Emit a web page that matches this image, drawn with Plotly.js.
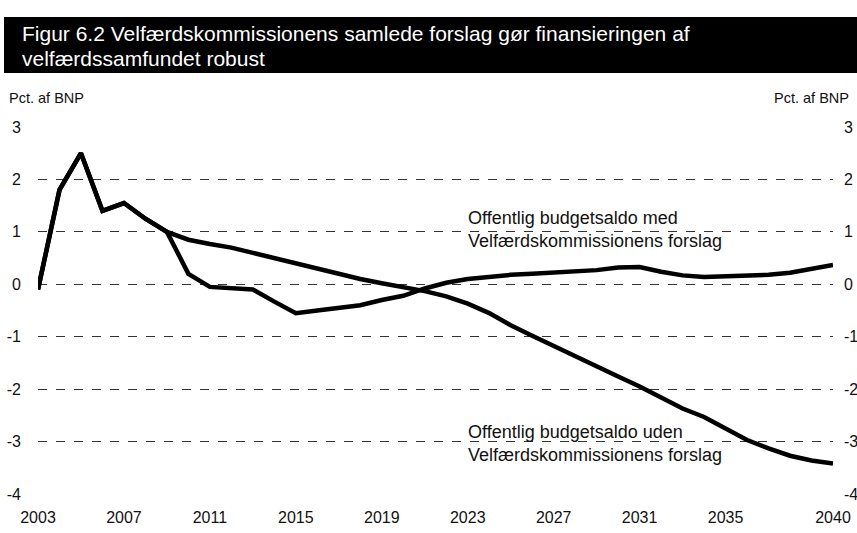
<!DOCTYPE html>
<html>
<head>
<meta charset="utf-8">
<script src="https://cdn.plot.ly/plotly-3.0.1.min.js"></script>
<style>
  html, body { margin: 0; padding: 0; background: #fff; }
  #chart { width: 857px; height: 533px; }
</style>
</head>
<body>
<div id="chart"></div>
<script>
  const FONT_FAMILY = "'Liberation Sans', Arial, sans-serif";
  const TEXT_COLOR = "#111";

  const years = [
    2003, 2004, 2005, 2006, 2007, 2008, 2009, 2010, 2011, 2012,
    2013, 2014, 2015, 2016, 2017, 2018, 2019, 2020, 2021, 2022,
    2023, 2024, 2025, 2026, 2027, 2028, 2029, 2030, 2031, 2032,
    2033, 2034, 2035, 2036, 2037, 2038, 2039, 2040
  ];

  // Offentlig budgetsaldo med Velfærdskommissionens forslag
  const saldoMed = [
    -0.1, 1.8, 2.5, 1.4, 1.55, 1.25, 1.0, 0.2, -0.05, -0.08,
    -0.1, -0.33, -0.55, -0.5, -0.45, -0.4, -0.3, -0.22, -0.08, 0.03,
    0.1, 0.15, 0.18, 0.2, 0.22, 0.24, 0.27, 0.32, 0.33, 0.24,
    0.17, 0.14, 0.15, 0.17, 0.18, 0.22, 0.3, 0.37
  ];

  // Offentlig budgetsaldo uden Velfærdskommissionens forslag
  const saldoUden = [
    -0.1, 1.8, 2.5, 1.4, 1.55, 1.25, 1.0, 0.85, 0.77, 0.7,
    0.6, 0.5, 0.4, 0.3, 0.18, 0.1, 0.02, -0.05, -0.13, -0.23,
    -0.37, -0.55, -0.78, -0.98, -1.18, -1.36, -1.58, -1.76, -1.95, -2.17,
    -2.37, -2.53, -2.75, -2.97, -3.13, -3.27, -3.36, -3.42
  ];

  const xTickVals = [2003, 2007, 2011, 2015, 2019, 2023, 2027, 2031, 2035, 2040];
  const yTickVals = [3, 2, 1, 0, -1, -2, -3, -4];
  const yTickText = ["3", "2", "1", "0", "-1", "-2", "-3", "-4"];

  const titleLines = [
    "Figur 6.2 Velfærdskommissionens samlede forslag gør finansieringen af",
    "velfærdssamfundet robust"
  ];
  const labelMed = "Offentlig budgetsaldo med<br>Velfærdskommissionens forslag";
  const labelUden = "Offentlig budgetsaldo uden<br>Velfærdskommissionens forslag";
  const unitLabel = "Pct. af BNP";

  const W = 857, H = 533;
  const M = { l: 38, r: 24, t: 127, b: 39 };
  const plotW = W - M.l - M.r, plotH = H - M.t - M.b;
  const px = (x) => (x - M.l) / plotW;        // pixel -> paper x
  const py = (y) => (H - M.b - y) / plotH;    // pixel -> paper y

  const traces = [
    {
      type: "scatter", mode: "lines", name: "med",
      x: years, y: saldoMed,
      line: { color: "#000", width: 4.5 },
      hoverinfo: "skip"
    },
    {
      type: "scatter", mode: "lines", name: "uden",
      x: years, y: saldoUden,
      line: { color: "#000", width: 4.5 },
      hoverinfo: "skip"
    },
    {
      type: "scatter", mode: "lines", yaxis: "y2",
      x: [years[0]], y: [0], showlegend: false, hoverinfo: "skip",
      line: { width: 0 }
    }
  ];

  const yAxisBase = {
    range: [-4, 3],
    tickvals: yTickVals,
    ticktext: yTickText,
    ticks: "",
    showline: false,
    zeroline: false,
    tickfont: { size: 16, color: TEXT_COLOR }
  };

  const layout = {
    width: W, height: H,
    margin: M,
    paper_bgcolor: "#fff",
    plot_bgcolor: "#fff",
    showlegend: false,
    font: { family: FONT_FAMILY, color: TEXT_COLOR },
    xaxis: {
      range: [2003, 2040],
      tickvals: xTickVals,
      ticks: "",
      showgrid: false,
      zeroline: false,
      showline: false,
      ticklabelstandoff: 12,
      tickfont: { size: 16, color: TEXT_COLOR }
    },
    yaxis: Object.assign({}, yAxisBase, {
      showgrid: true,
      gridcolor: "#333",
      gridwidth: 1,
      griddash: "dash",
      ticklabelstandoff: 16
    }),
    yaxis2: Object.assign({}, yAxisBase, {
      overlaying: "y",
      side: "right",
      showgrid: false,
      ticklabelstandoff: 10
    }),
    shapes: [
      {
        type: "rect", xref: "paper", yref: "paper", layer: "below",
        x0: px(4), x1: px(W), y0: py(73), y1: py(17),
        fillcolor: "#000", line: { width: 0 }
      }
    ],
    annotations: [
      {
        xref: "paper", yref: "paper", x: px(20), y: py(33),
        xanchor: "left", yanchor: "middle", showarrow: false,
        text: titleLines[0], font: { size: 21, color: "#fff" }
      },
      {
        xref: "paper", yref: "paper", x: px(20), y: py(59),
        xanchor: "left", yanchor: "middle", showarrow: false,
        text: titleLines[1], font: { size: 21, color: "#fff" }
      },
      {
        xref: "paper", yref: "paper", x: px(7), y: py(98),
        xanchor: "left", yanchor: "middle", showarrow: false,
        text: unitLabel, font: { size: 14.5 }
      },
      {
        xref: "paper", yref: "paper", x: px(851), y: py(98),
        xanchor: "right", yanchor: "middle", showarrow: false,
        text: unitLabel, font: { size: 14.5 }
      },
      {
        xref: "x", yref: "y", x: 2022.9, y: 1.05,
        xanchor: "left", yanchor: "middle", align: "left", showarrow: false,
        text: labelMed, font: { size: 18 }
      },
      {
        xref: "x", yref: "y", x: 2022.9, y: -3.04,
        xanchor: "left", yanchor: "middle", align: "left", showarrow: false,
        text: labelUden, font: { size: 18 }
      }
    ]
  };

  Plotly.newPlot("chart", traces, layout, { staticPlot: true, displayModeBar: false });
</script>
</body>
</html>
